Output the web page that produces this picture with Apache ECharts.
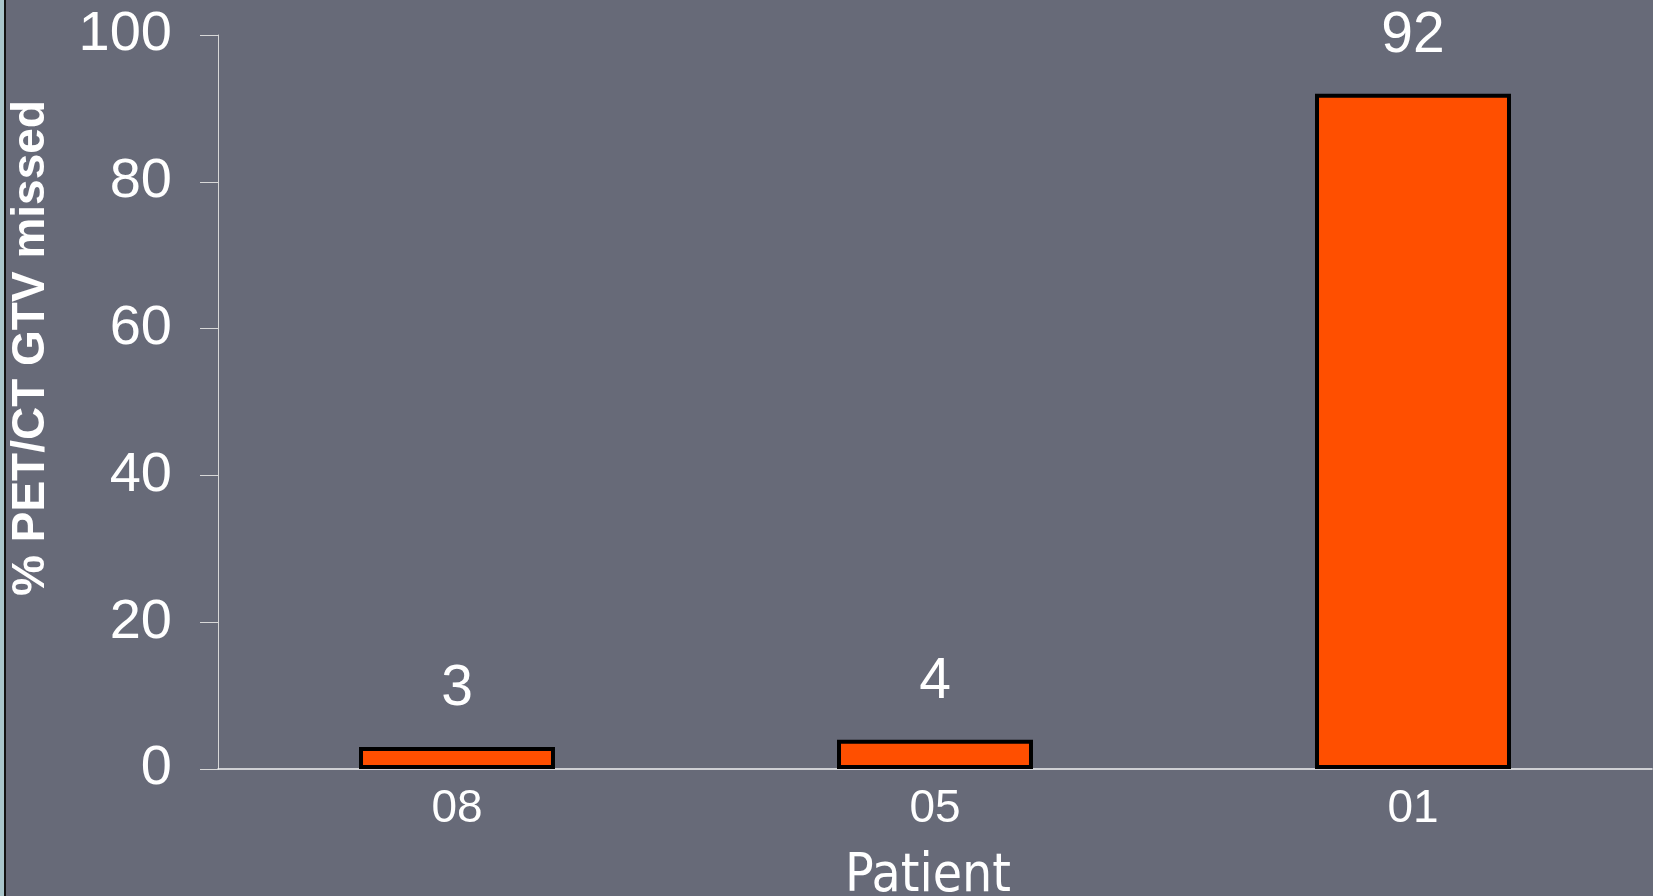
<!DOCTYPE html>
<html>
<head>
<meta charset="utf-8">
<title>% PET/CT GTV missed by patient</title>
<script src="https://cdn.jsdelivr.net/npm/echarts@6/dist/echarts.min.js"></script>
<style>
  html, body { margin: 0; padding: 0; background: #676a78; }
  #chart { width: 1653px; height: 896px; }
</style>
</head>
<body>
<div id="chart"></div>
<script>
// Patients and the share of the PET/CT gross tumour volume missed (%)
const patients = ['08', '05', '01'];
const missedPct = [3, 4, 92];
const yTicks = { min: 0, max: 100, interval: 20 };

const numFont = '"Liberation Sans", Arial, sans-serif';

const chart = echarts.init(document.getElementById('chart'));
chart.setOption({
  backgroundColor: '#676a78',
  animation: false,
  grid: { left: 218, right: 1, top: 35, bottom: 127, containLabel: false, outerBoundsMode: 'none' },
  graphic: [
    // frame edge on the left side of the slide
    { type: 'rect', left: 0, top: 0, shape: { width: 4, height: 896 }, style: { fill: '#a9c5ca' }, z: 10 },
    { type: 'rect', left: 4, top: 0, shape: { width: 2, height: 896 }, style: { fill: '#111' }, z: 10 },
    {
      type: 'text',
      x: 31, y: 348,
      rotation: Math.PI / 2,
      style: {
        text: '% PET/CT GTV missed',
        fill: '#ffffff',
        font: 'bold 46px "Liberation Sans", Arial, sans-serif',
        textAlign: 'center',
        textVerticalAlign: 'middle'
      },
      z: 10
    }
  ],
  xAxis: {
    type: 'category',
    data: patients,
    name: 'Patient',
    nameLocation: 'middle',
    nameGap: 82,
    nameTextStyle: {
      color: '#ffffff',
      fontSize: 53,
      fontFamily: '"DejaVu Sans Condensed", "DejaVu Sans", sans-serif',
      padding: [0, 14, 0, 0]
    },
    axisLine: { show: true, lineStyle: { color: '#f2f2f2', width: 1.5 } },
    axisTick: { show: false },
    axisLabel: { color: '#ffffff', fontSize: 46, fontFamily: numFont, margin: 17 },
    splitLine: { show: false }
  },
  yAxis: {
    type: 'value',
    min: yTicks.min,
    max: yTicks.max,
    interval: yTicks.interval,
    axisLine: { show: true, lineStyle: { color: '#d8d8d8', width: 1 } },
    axisTick: { show: true, length: 18, lineStyle: { color: '#d8d8d8', width: 1 } },
    axisLabel: { color: '#ffffff', fontSize: 56, fontFamily: numFont, margin: 46 },
    splitLine: { show: false }
  },
  series: [{
    type: 'bar',
    data: missedPct,
    barWidth: '41%',
    itemStyle: { color: '#ff4f00', borderColor: '#000000', borderWidth: 4 },
    label: {
      show: true,
      position: 'top',
      distance: 29,
      color: '#ffffff',
      fontSize: 57,
      fontFamily: numFont
    }
  }]
});
</script>
</body>
</html>
